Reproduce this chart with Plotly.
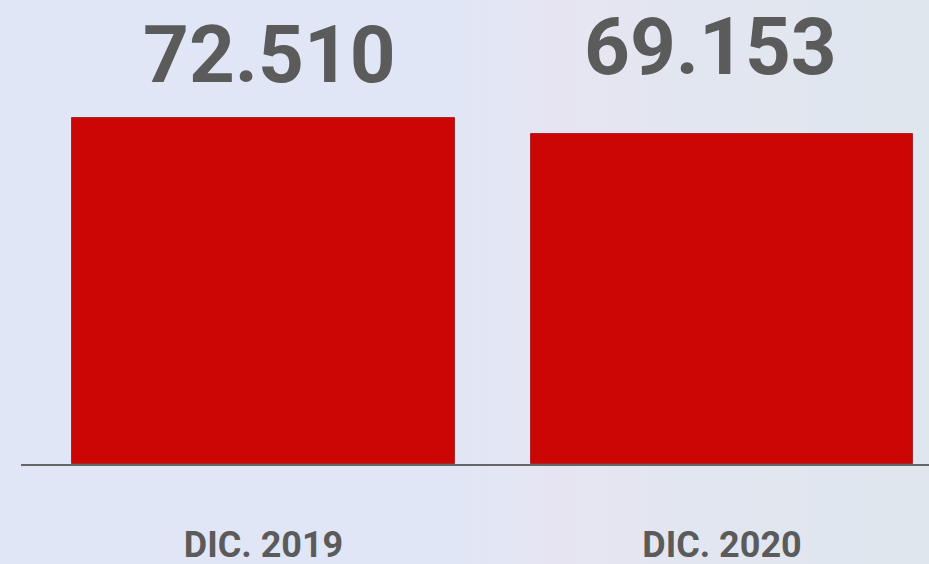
import plotly.graph_objects as go

categories = ["DIC. 2019", "DIC. 2020"]
values = [72.510, 69.153]
value_labels = ["72.510", "69.153"]

W, H = 929, 564
ML, MR, MT, MB = 21, 0, 0, 100
PW = W - ML - MR
PH = H - MT - MB

fig = go.Figure()
fig.add_trace(go.Bar(
    x=[0, 1], y=values, width=0.835,
    marker=dict(color="#cc0505", line=dict(color="#a8262a", width=1)),
    hoverinfo="skip",
))

# background gradient (stepped vertical strips)
stops = [(0, (224, 230, 246)), (440, (224, 230, 246)), (520, (228, 230, 243)),
         (555, (231, 228, 242)), (600, (230, 229, 242)), (680, (226, 230, 240)),
         (929, (223, 230, 238))]
def col_at(p):
    for (p0, c0), (p1, c1) in zip(stops[:-1], stops[1:]):
        if p0 <= p <= p1:
            t = 0 if p1 == p0 else (p - p0) / (p1 - p0)
            return tuple(round(a + (b - a) * t) for a, b in zip(c0, c1))
    return stops[-1][1]

shapes = []
step = 8
for p in range(0, W, step):
    c = col_at(p + step / 2)
    shapes.append(dict(type="rect", xref="paper", yref="paper",
                       x0=(p - ML) / PW, x1=(p + step + 1 - ML) / PW,
                       y0=-MB / PH, y1=1 + MT / PH,
                       fillcolor="rgb(%d,%d,%d)" % c, line=dict(width=0), layer="below"))

annotations = []
xshifts = [6, -12]
yshifts = [14, 38]
for i, (v, lab) in enumerate(zip(values, value_labels)):
    annotations.append(dict(x=i, y=v, xref="x", yref="y", text=lab, showarrow=False,
                            yanchor="bottom", xanchor="center",
                            xshift=xshifts[i], yshift=yshifts[i],
                            font=dict(family="Roboto", size=80, color="#5b5b5b", weight="bold")))

fig.update_layout(
    width=W, height=H,
    margin=dict(l=ML, r=MR, t=MT, b=MB, pad=0, autoexpand=False),
    paper_bgcolor="rgb(224,230,246)", plot_bgcolor="rgba(0,0,0,0)",
    showlegend=False, bargap=0,
    shapes=shapes, annotations=annotations,
    font=dict(family="Roboto"),
    xaxis=dict(range=[-0.529, 1.4515], tickvals=[0, 1], ticktext=categories,
               showline=True, linecolor="#666666", linewidth=2,
               showgrid=False, zeroline=False, ticks="", automargin=False,
               ticklabelstandoff=48,
               tickfont=dict(family="Roboto", size=36, color="#5b5b5b", weight="bold")),
    yaxis=dict(range=[0, 97.23], visible=False, showgrid=False, zeroline=False,
               automargin=False),
)

fig.write_html("out.html", config={"displayModeBar": False},
               post_script="document.body.style.margin='0';document.body.style.overflow='hidden';")
